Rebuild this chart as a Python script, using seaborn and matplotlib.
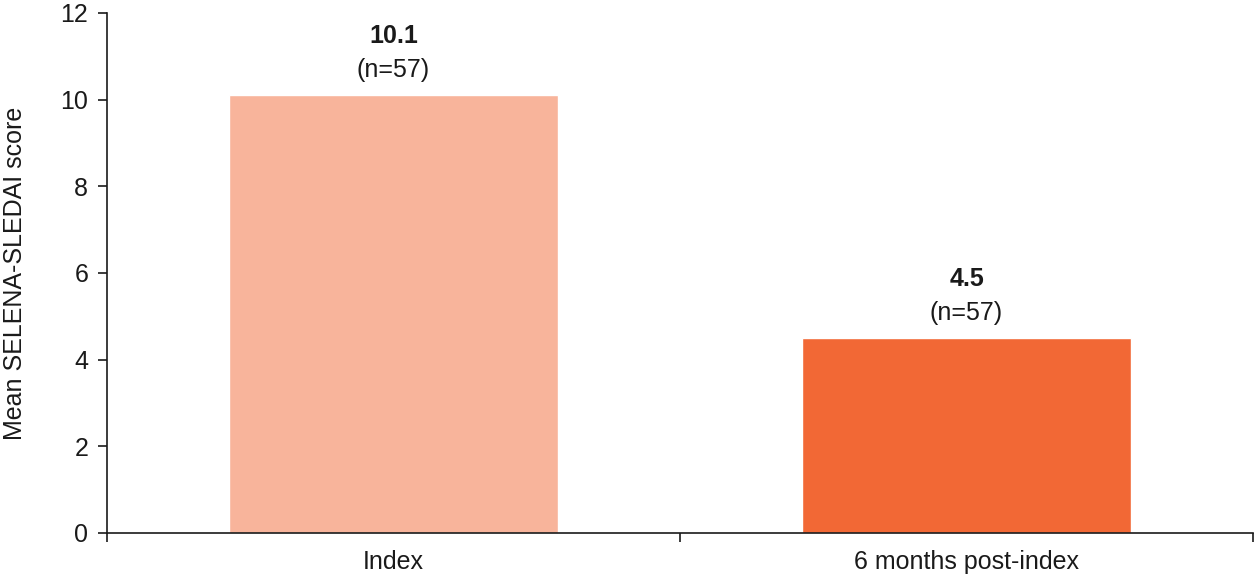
import matplotlib
matplotlib.use("Agg")
import matplotlib.pyplot as plt
import seaborn as sns
import pandas as pd

categories = ["Index", "6 months post-index"]
values = [10.1, 4.5]
n_labels = ["(n=57)", "(n=57)"]
colors = ["#F8B49B", "#F26835"]

sns.set_theme(style="white")
plt.rcParams['font.family'] = ['Liberation Sans', 'DejaVu Sans']

df = pd.DataFrame({"cat": categories, "val": values})

FS = 18

fig = plt.figure(figsize=(12.58, 5.78), dpi=100)
ax = fig.add_axes([107/1258, 45/578, 1146/1258, 520/578])
sns.barplot(data=df, x="cat", y="val", hue="cat", palette=colors, order=categories,
            hue_order=categories, width=0.574, ax=ax, legend=False, saturation=1)

ax.set_xlim(-0.5, 1.5)
ax.set_ylim(0, 12)
ax.set_yticks([0, 2, 4, 6, 8, 10, 12])
ax.set_xlabel("")
ax.set_ylabel("Mean SELENA-SLEDAI score", fontsize=FS, labelpad=24, color="#1a1a1a")

for s in ["top", "right"]:
    ax.spines[s].set_visible(False)
for s in ["left", "bottom"]:
    ax.spines[s].set_linewidth(1.2)
    ax.spines[s].set_color("#1a1a1a")

ax.tick_params(axis="y", which="major", direction="out", length=6.5, width=1.2,
               labelsize=FS, pad=7, left=True, color="#1a1a1a", labelcolor="#1a1a1a")
ax.tick_params(axis="x", which="major", length=0, labelsize=FS, pad=12, labelcolor="#1a1a1a")
ax.set_xticks([-0.5, 0.5, 1.5], minor=True)
ax.tick_params(axis="x", which="minor", direction="out", length=6.5, width=1.2,
               bottom=True, color="#1a1a1a")

for i, (v, n) in enumerate(zip(values, n_labels)):
    ax.annotate(f"{v}", xy=(i, v), xytext=(0, 42.5), textcoords="offset points",
                ha="center", va="center", fontsize=FS, fontweight="bold", color="#1a1a1a")
    ax.annotate(n, xy=(i, v), xytext=(0, 18), textcoords="offset points",
                ha="center", va="center", fontsize=FS, color="#1a1a1a")

fig.savefig("out.png", dpi=100)
